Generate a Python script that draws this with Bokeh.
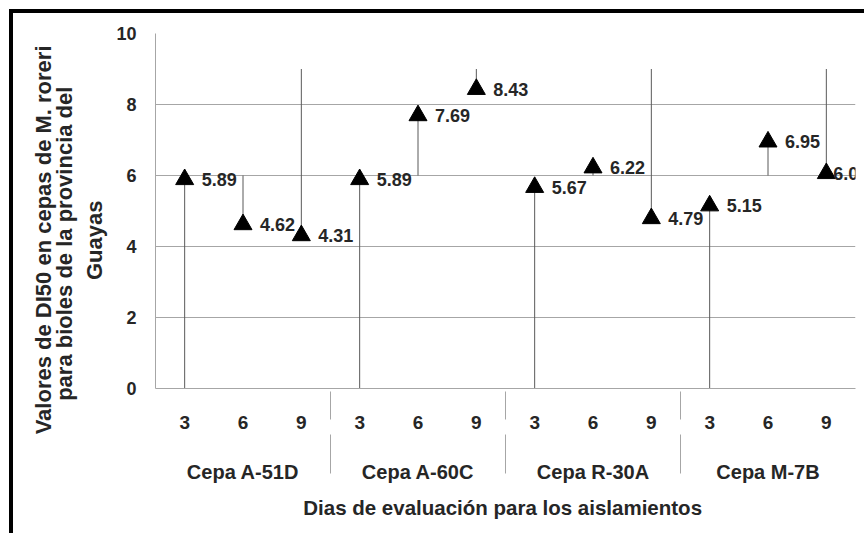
from bokeh.plotting import figure
from bokeh.models import (FactorRange, Range1d, FixedTicker, CategoricalAxis,
                          ColumnDataSource, LabelSet, Title)
from bokeh.core.properties import value
from bokeh.embed import file_html
from bokeh.resources import INLINE

# ---- data ----
groups = ["Cepa A-51D", "Cepa A-60C", "Cepa R-30A", "Cepa M-7B"]
days = ["3", "6", "9"]
values = [5.89, 4.62, 4.31, 5.89, 7.69, 8.43, 5.67, 6.22, 4.79, 5.15, 6.95, 6.06]
line_ends = [0, 6, 9]          # other end of each day's vertical line
y_ticks = [0, 2, 4, 6, 8, 10]
y_title_lines = ["Valores de DI50 en cepas de M. roreri",
                 "para  bioles de la provincia del",
                 "Guayas"]
x_title = "Dias de evaluación para los  aislamientos"

FONT = "Liberation Sans"
TXT = "#262626"
GRID = "#a6a6a6"

factors = [(g, d) for g in groups for d in days]
ends = [line_ends[days.index(d)] for (_, d) in factors]
# labels sit right of the marker; the last one is pulled in (as in the original chart)
offsets = [17] * (len(values) - 1) + [7]
src = ColumnDataSource(dict(x=factors, y=values, y0=ends, dx=offsets,
                            lbl=[f"{v:.2f}" for v in values]))

p = figure(width=855, height=524,
           x_range=FactorRange(*factors, factor_padding=0, group_padding=0, range_padding=0),
           y_range=Range1d(0, 10),
           output_backend="svg", toolbar_location=None,
           min_border_left=142, min_border_right=13, min_border_top=20, min_border_bottom=149)
p.styles = {"border-top": "4px solid black", "border-left": "4px solid black",
            "border-right": "0px solid white", "outline": "none",
            "margin-top": "9px", "margin-left": "9px"}
p.outline_line_color = None
p.background_fill_color = "white"
p.border_fill_color = "white"

# y axis
p.yaxis.ticker = FixedTicker(ticks=y_ticks)
p.yaxis.axis_line_color = GRID
p.yaxis.major_tick_line_color = None
p.yaxis.minor_tick_line_color = None
p.yaxis.major_label_standoff = 13
p.yaxis.major_label_text_font = FONT
p.yaxis.major_label_text_font_style = "bold"
p.yaxis.major_label_text_font_size = "18px"
p.yaxis.major_label_text_color = TXT
p.ygrid.grid_line_color = GRID
p.xgrid.grid_line_color = None

# y title: three rotated lines, innermost first; each line is centred a little
# below the middle of the plot area, as in the original (offset = top end, px)
TITLE_PX = 22
EM = {"Guayas": 3.613, "para  bioles de la provincia del": 14.56,
      "Valores de DI50 en cepas de M. roreri": 17.73}
centre_from_top = 207
for i, line in enumerate(reversed(y_title_lines)):
    length = EM[line] * TITLE_PX
    t = Title(text=line, align="right", offset=round(centre_from_top - length / 2),
              standoff=13 if i == 0 else -6,
              text_font=FONT, text_font_style="bold", text_font_size=f"{TITLE_PX}px",
              text_color=TXT)
    p.add_layout(t, "left")

# x axis level 1: days
ax1 = p.xaxis[0]
ax1.axis_line_color = GRID
ax1.major_tick_line_color = None
ax1.major_label_standoff = 21
ax1.major_label_text_font = FONT
ax1.major_label_text_font_style = "bold"
ax1.major_label_text_font_size = "19px"
ax1.major_label_text_color = TXT
ax1.group_text_font_size = "1px"
ax1.group_text_color = None
ax1.separator_line_color = GRID
ax1.separator_line_width = 1

# x axis level 2: strains
ax2 = CategoricalAxis()
ax2.axis_line_color = None
ax2.major_tick_line_color = None
ax2.major_label_text_font_size = "1px"
ax2.major_label_text_color = None
ax2.major_label_standoff = 23
ax2.group_text_font = FONT
ax2.group_text_font_style = "bold"
ax2.group_text_font_size = "20px"
ax2.group_text_color = TXT
ax2.separator_line_color = GRID
ax2.separator_line_width = 1
ax2.axis_label = x_title
ax2.axis_label_text_font = FONT
ax2.axis_label_text_font_style = "bold"
ax2.axis_label_text_font_size = "20.5px"
ax2.axis_label_text_color = TXT
ax2.axis_label_standoff = 10
p.add_layout(ax2, "below")

# vertical lines and markers
p.segment(x0="x", y0="y0", x1="x", y1="y", source=src, line_color="#595959", line_width=1)
p.scatter(x="x", y="y", source=src, marker="triangle", size=18, fill_color="black",
          line_color="black")
labels = LabelSet(x="x", y="y", text="lbl", source=src, x_offset="dx", y_offset=0,
                  text_baseline="middle", text_font=value(FONT), text_font_style="bold",
                  text_font_size="18px", text_color=TXT)
p.add_layout(labels)

open("out.html", "w").write(file_html(p, INLINE))
